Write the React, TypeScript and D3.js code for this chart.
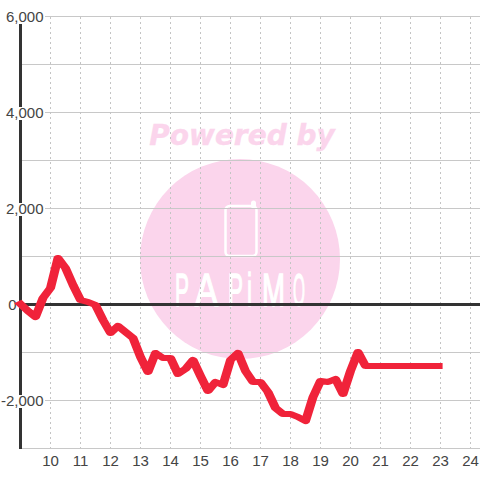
import React from "react";
import * as d3 from "d3";

const hours = [9,9.25,9.5,9.75,10,10.25,10.5,10.75,11,11.25,11.5,11.75,12,12.25,12.5,12.75,13,13.25,13.5,13.75,14,14.25,14.5,14.75,15,15.25,15.5,15.75,16,16.25,16.5,16.75,17,17.25,17.5,17.75,18,18.25,18.5,18.75,19,19.25,19.5,19.75,20,20.25,20.5,20.75,21,21.25,21.5,21.75,22,22.25,22.5,22.75,22.92];
const values = [0,-146,-270,125,333,958,750,396,83,42,-21,-333,-604,-458,-583,-708,-1104,-1417,-1021,-1125,-1125,-1458,-1354,-1167,-1500,-1812,-1625,-1688,-1167,-1021,-1396,-1625,-1625,-1833,-2167,-2292,-2292,-2354,-2438,-1938,-1604,-1625,-1562,-1875,-1396,-1000,-1292,-1292,-1292,-1292,-1292,-1292,-1292,-1292,-1292,-1292,-1292];
const xTicks = [10,11,12,13,14,15,16,17,18,19,20,21,22,23,24];
const yGrid = [6000,5000,4000,3000,2000,1000,-1000,-2000,-3000];
const yLabels = [6000,4000,2000,0,-2000];
const brandLetters = ["P","A","P","i","M","O"];
const brandLeft = [175,195,228,247,262,293];
const brandWidth = [14,23,15,5,23,12];

const penStretch = 1.5;
const x = d3.scaleLinear().domain([9, 24.3333]).range([20.5, 480.5]);
const y = d3.scaleLinear().domain([6000, -3000]).range([16, 448]);
const line = d3.line<number>().x((_, i) => x(hours[i]) / penStretch).y((d) => y(d)).curve(d3.curveLinear);
const fmt = d3.format(",");
const natural: Record<string, number> = { P: 30.7, A: 30.7, i: 10.2, M: 38.3, O: 35.8 };

export default function App() {
  return (
    <svg width={480} height={480} style={{ position: "absolute", left: 0, top: 0, background: "#fff" }} fontFamily="'Liberation Sans', Arial, sans-serif">
      <g>
        <circle cx={240} cy={259} r={100} fill="#fbd5ec" />
        <text x={242} y={144.5} textAnchor="middle" fontFamily="'DejaVu Sans'" fontWeight="bold" fontStyle="italic" fontSize={28} fill="#fbd5ec" stroke="#fbd5ec" strokeWidth={0.4}>Powered by</text>
        <rect x={225.5} y={206} width={31} height={50} rx={4} fill="none" stroke="#fff" strokeWidth={2.5} />
        <line x1={253.5} y1={203} x2={253.5} y2={206} stroke="#fff" strokeWidth={5} strokeLinecap="round" />
        {brandLetters.map((c, i) => (
          <text key={i} transform={`translate(${brandLeft[i]},306) scale(${brandWidth[i] / natural[c]},1)`} fontSize={46} fill="#fff" stroke="#fff" strokeWidth={1.4}>{c}</text>
        ))}
      </g>
      {yGrid.map((v) => (
        <line key={v} x1={22} x2={480} y1={y(v) + 0.5} y2={y(v) + 0.5} stroke="#c8c8c8" strokeWidth={1} />
      ))}
      {xTicks.map((t) => (
        <line key={t} x1={x(t)} x2={x(t)} y1={17} y2={448} stroke="#c4c4c4" strokeWidth={1} strokeDasharray="2 3" />
      ))}
      <line x1={20.5} x2={20.5} y1={24} y2={449} stroke="#333" strokeWidth={3} />
      <line x1={20} x2={480} y1={y(0) + 0.5} y2={y(0) + 0.5} stroke="#333" strokeWidth={3} />
      {yLabels.filter((v) => v !== 0).map((v) => (
        <rect key={v} x={4} y={y(v) - 5} width={41} height={13} fill="#fff" />
      ))}
      {yLabels.map((v) => (
        <text key={v} x={v === 0 ? 16.5 : 43.5} y={y(v) + 6} textAnchor="end" fontSize={15} fill="#444">{fmt(v).replace("−", "-")}</text>
      ))}
      {xTicks.map((t) => (
        <text key={t} x={x(t)} y={466} textAnchor="middle" fontSize={15} fill="#444">{t}</text>
      ))}
      <path transform={`scale(${penStretch},1)`} d={line(values) ?? ""} fill="none" stroke="#f0233a" strokeWidth={6} strokeLinejoin="round" strokeLinecap="square" />
    </svg>
  );
}
